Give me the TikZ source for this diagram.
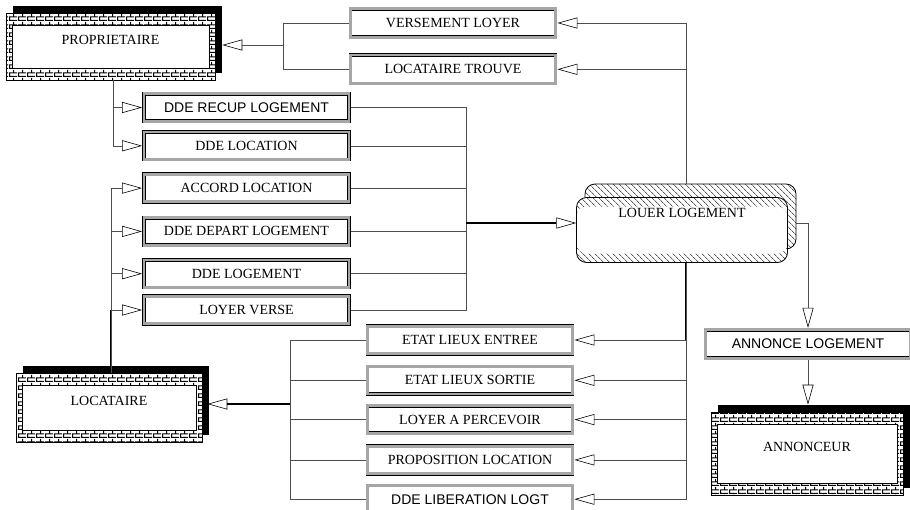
\documentclass[tikz,border=0pt]{standalone}
\usepackage{fontspec}
\setmainfont{Liberation Serif}
\setsansfont{Liberation Sans}
\usepackage{tikz}
\usetikzlibrary{arrows.meta, positioning, patterns, patterns.meta}
\definecolor{MC_BAND}{HTML}{A6A6A6}
\definecolor{MC_LINE}{HTML}{4D4D4D}
\pgfdeclarepatternformonly{brickwall}{\pgfpointorigin}{\pgfpoint{9pt}{8pt}}{\pgfpoint{9pt}{8pt}}{
  \pgfsetlinewidth{1.2pt}
  \pgfpathmoveto{\pgfpoint{0pt}{0.6pt}}\pgfpathlineto{\pgfpoint{9pt}{0.6pt}}
  \pgfpathmoveto{\pgfpoint{0pt}{4.6pt}}\pgfpathlineto{\pgfpoint{9pt}{4.6pt}}
  \pgfpathmoveto{\pgfpoint{0.6pt}{0.6pt}}\pgfpathlineto{\pgfpoint{0.6pt}{4.6pt}}
  \pgfpathmoveto{\pgfpoint{5.1pt}{4.6pt}}\pgfpathlineto{\pgfpoint{5.1pt}{8pt}}
  \pgfusepath{stroke}}
\tikzset{
  proc/.style={
    rectangle, draw=black, line width=0.5pt,
    double=MC_BAND, double distance=2.8pt, fill=white,
    minimum width=205pt, minimum height=27.5pt, outer sep=1.9pt,
    inner sep=1pt, text centered, font=\fontsize{14}{16}\selectfont},
  procsf/.style={proc, font=\sffamily\fontsize{14}{16}\selectfont},
  actor/.style={
    rectangle, draw=black, line width=0.6pt,
    minimum height=67pt, text height=10pt, text depth=15pt,
    font=\fontsize{14}{16}\selectfont,
    preaction={fill=black, transform canvas={shift={(7pt,7pt)}}},
    preaction={fill=white}, pattern=brickwall,
    path picture={\filldraw[fill=white, draw=black, line width=0.8pt]
      ([shift={(6pt,-12pt)}]path picture bounding box.north west) rectangle
      ([shift={(-6pt,12pt)}]path picture bounding box.south east);}},
  hatch/.style={pattern={Lines[angle=-45,distance=4pt,line width=0.5pt]}},
  store/.style={
    rectangle, rounded corners=10pt, draw=black, line width=0.8pt,
    minimum width=211pt, minimum height=65pt,
    text height=10pt, text depth=35pt, font=\fontsize{14}{16}\selectfont,
    preaction={fill=white, draw=black, transform canvas={shift={(8.5pt,13.5pt)}}},
    preaction={hatch, transform canvas={shift={(8.5pt,13.5pt)}}},
    preaction={fill=white},
    hatch,
    path picture={\fill[white]
      ([yshift=-9pt]path picture bounding box.north west) rectangle
      ([yshift=9pt]path picture bounding box.south east);}},
  link/.style={line width=0.6pt, color=MC_LINE},
  flow/.style={link, -{Triangle[open, length=20pt, width=11pt, line width=0.6pt, color=black]}},
  trunk/.style={line width=1.4pt, color=black},
  trunkflow/.style={trunk, -{Triangle[open, length=20pt, width=11pt, line width=0.6pt]}},
}
\begin{document}
\begin{tikzpicture}[x=1pt, y=-1pt]
  \clip (0,0) rectangle (910,509);

  % actors
  \node[actor, minimum width=209pt] (prop) at (110.5,46.5) {PROPRIETAIRE};
  \node[actor, minimum width=186pt, minimum height=69pt] (loc) at (109,407.5) {LOCATAIRE};
  \node[actor, minimum width=192pt, minimum height=83pt] (ann) at (807,453.5) {ANNONCEUR};

  % process
  \node[store] (louer) at (682,230) {LOUER LOGEMENT};

  % flows
  \node[proc, minimum height=28.5pt] (versement) at (453,23) {VERSEMENT LOYER};
  \node[proc, minimum height=28.5pt, below=14pt of versement] (trouve) {LOCATAIRE TROUVE};

  \node[procsf] (recup) at (246.5,107.5) {DDE RECUP LOGEMENT};
  \node[proc, below=7pt of recup]   (ddeloc) {DDE LOCATION};
  \node[proc, below=11pt of ddeloc] (accord) {ACCORD LOCATION};
  \node[proc, below=12pt of accord] (depart) {DDE DEPART LOGEMENT};
  \node[proc, below=11pt of depart] (ddelog) {DDE LOGEMENT};
  \node[proc, below=5pt of ddelog]  (loyerv) {LOYER VERSE};

  \node[proc] (entree) at (470,340) {ETAT LIEUX ENTREE};
  \node[proc, below=9pt of entree]      (sortie)      {ETAT LIEUX SORTIE};
  \node[proc, below=8pt of sortie]      (percevoir)   {LOYER A PERCEVOIR};
  \node[proc, below=9pt of percevoir]   (proposition) {PROPOSITION LOCATION};
  \node[procsf, below=8pt of proposition] (liberation) {DDE LIBERATION LOGT};

  \node[procsf, minimum height=28.5pt] (annonce) at (808,344) {ANNONCE LOGEMENT};

  % junctions
  \coordinate (jtop) at ([xshift=4pt, yshift=13.5pt]louer.north);
  \coordinate (jbot) at ([xshift=4pt]louer.south);
  \coordinate (jP)   at (283,45);
  \coordinate (jL)   at (466,223);
  \coordinate (jQ)   at (290,404);
  \coordinate (jprop) at ([xshift=2.5pt]prop.south);
  \coordinate (jloc)  at ([xshift=2pt]loc.north);
  \coordinate (propE) at ([xshift=7pt]prop.east);
  \coordinate (locE)  at ([xshift=5pt]loc.east);
  \coordinate (annN)  at ([yshift=7pt]ann.north);

  \draw[flow] (jtop) |- (versement.east);
  \draw[flow] (jtop) |- (trouve.east);
  \draw[link] (versement.west) -| (jP);
  \draw[link] (trouve.west) -| (jP);
  \draw[flow] (jP) -- (jP -| propE);

  \draw[flow] (jprop) |- (recup.west);
  \draw[flow] (jprop) |- (ddeloc.west);

  \foreach \n in {recup, ddeloc, accord, depart, ddelog, loyerv}
    \draw[link] (\n.east) -| (jL);
  \draw[trunkflow] (jL) -- (jL -| louer.west);

  \draw[trunk] (jloc) -- (jloc |- loyerv.west);
  \foreach \n in {accord, depart, ddelog, loyerv}
    \draw[flow] (jloc) |- (\n.west);

  \draw[trunk] (jbot) -- (jbot |- entree.east);
  \foreach \n in {entree, sortie, percevoir, proposition, liberation} {
    \draw[flow] (jbot) |- (\n.east);
    \draw[link] (\n.west) -| (jQ);
  }
  \draw[trunkflow] (jQ) -- (jQ -| locE);

  \draw[flow] ([xshift=8.5pt, yshift=7pt]louer.east) -| (annonce.north);
  \draw[flow] (annonce.south) -- (annonce.south |- annN);

\end{tikzpicture}
\end{document}
